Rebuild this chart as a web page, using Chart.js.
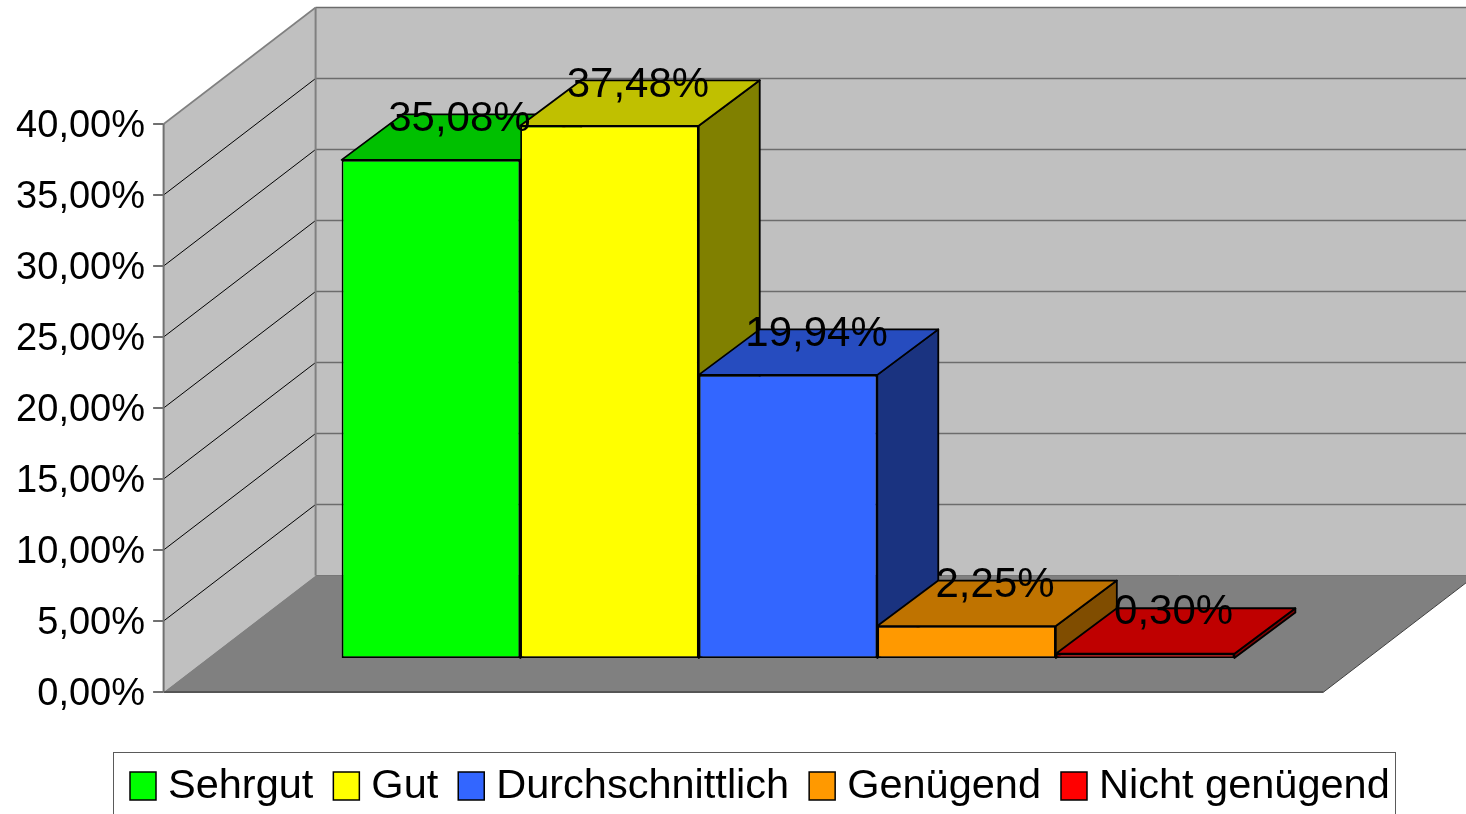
<!DOCTYPE html>
<html><head><meta charset="utf-8">
<script src="https://cdn.jsdelivr.net/npm/chart.js@4/dist/chart.umd.min.js"></script>
<style>html,body{margin:0;padding:0;background:#fff;overflow:hidden}canvas{display:block}</style>
</head><body>
<canvas id="c" width="1466" height="814"></canvas>
<script>
// ---- data ----
const categories = [''];
const seriesNames = ['Sehrgut', 'Gut', 'Durchschnittlich', 'Genügend', 'Nicht genügend'];
const seriesValues = [35.08, 37.48, 19.94, 2.25, 0.30];
const frontColors = ['#00ff00', '#ffff00', '#3366ff', '#ff9900', '#ff0000'];
const topColors = ['#00c000', '#c0c000', '#264cbf', '#bf7300', '#bf0000'];
const sideColors = ['#008000', '#808000', '#1a3380', '#804d00', '#800000'];
const yTickValues = [0, 5, 10, 15, 20, 25, 30, 35, 40];
const yTickLabels = ['0,00%', '5,00%', '10,00%', '15,00%', '20,00%', '25,00%', '30,00%', '35,00%', '40,00%'];

// ---- oblique projection geometry ----
const FRONT = { x: -44.4, y: 34 };     // front plane relative to bar plane
const WALL = { x: 152, y: -116.5 };    // full depth of the box
const BAR_DEPTH = { x: 61, y: -45.5 }; // depth of each bar

function poly(ctx, pts, fill, stroke, lw) {
  ctx.beginPath();
  ctx.moveTo(pts[0][0], pts[0][1]);
  for (let i = 1; i < pts.length; i++) ctx.lineTo(pts[i][0], pts[i][1]);
  ctx.closePath();
  if (fill) { ctx.fillStyle = fill; ctx.fill(); }
  if (stroke) { ctx.strokeStyle = stroke; ctx.lineWidth = lw || 1; ctx.lineJoin = 'round'; ctx.stroke(); }
}
function line(ctx, x1, y1, x2, y2, color, lw) {
  ctx.beginPath(); ctx.moveTo(x1, y1); ctx.lineTo(x2, y2);
  ctx.strokeStyle = color; ctx.lineWidth = lw; ctx.stroke();
}
const fmt = v => v.toFixed(2).replace('.', ',') + '%';

const fake3d = {
  id: 'fake3d',
  beforeDatasetsDraw(chart) {
    const ctx = chart.ctx, ca = chart.chartArea, ys = chart.scales.y;
    const maxV = yTickValues[yTickValues.length - 1];
    const fL = ca.left + FRONT.x, fR = ca.right + FRONT.x;
    const fy = v => ys.getPixelForValue(v) + FRONT.y;
    const bL = fL + WALL.x, bR = fR + WALL.x;
    const by = v => fy(v) + WALL.y;
    ctx.save();
    // back wall
    ctx.fillStyle = '#c0c0c0';
    ctx.fillRect(bL, by(maxV), bR - bL, by(0) - by(maxV));
    // side wall
    poly(ctx, [[fL, fy(0)], [fL, fy(maxV)], [bL, by(maxV)], [bL, by(0)]], '#c0c0c0');
    // floor
    poly(ctx, [[fL, fy(0)], [fR, fy(0)], [bR, by(0)], [bL, by(0)]], '#808080');
    // back wall gridlines
    yTickValues.forEach(v => {
      if (v > 0) line(ctx, bL, by(v), bR, by(v), '#6c6c6c', 1.6);
    });
    line(ctx, bL, by(0), bR, by(0), '#777777', 1);
    // side wall gridlines
    yTickValues.forEach(v => {
      if (v > 0 && v < maxV) line(ctx, fL, fy(v), bL, by(v), '#000000', 1);
    });
    line(ctx, fL, fy(maxV), bL, by(maxV), '#808080', 1.6);
    line(ctx, bL, by(maxV), bL, by(0), '#808080', 2);
    // floor edges
    line(ctx, fR, fy(0), bR, by(0), '#404040', 1);
    line(ctx, fL, fy(0), fR, fy(0), '#555555', 2);
    // front axis line and ticks
    line(ctx, fL, fy(maxV), fL, fy(0), '#707070', 2);
    yTickValues.forEach(v => line(ctx, fL - 10.5, fy(v), fL, fy(v), '#707070', 2));
    // y tick labels
    ctx.fillStyle = '#000';
    ctx.font = '38px "Liberation Sans"';
    ctx.textAlign = 'right';
    ctx.textBaseline = 'alphabetic';
    yTickValues.forEach((v, i) => {
      ctx.fillText(yTickLabels[i], 145, fy(v) + 13);
    });
    // bar tops and sides (painter's order left to right)
    chart.data.datasets.forEach((ds, i) => {
      const el = chart.getDatasetMeta(i).data[0];
      const p = el.getProps(['x', 'y', 'base', 'width'], true);
      const l = p.x - p.width / 2, r = p.x + p.width / 2, t = p.y, b = p.base;
      const dx = BAR_DEPTH.x, dy = BAR_DEPTH.y;
      poly(ctx, [[r, t], [r + dx, t + dy], [r + dx, b + dy], [r, b]], sideColors[i], '#000', 1.8);
      poly(ctx, [[l, t], [r, t], [r + dx, t + dy], [l + dx, t + dy]], topColors[i], '#000', 1.8);
    });
    ctx.restore();
  },
  afterDatasetsDraw(chart) {
    const ctx = chart.ctx;
    ctx.save();
    ctx.fillStyle = '#000';
    ctx.font = '42px "Liberation Sans"';
    ctx.textAlign = 'center';
    ctx.textBaseline = 'alphabetic';
    chart.data.datasets.forEach((ds, i) => {
      const el = chart.getDatasetMeta(i).data[0];
      const p = el.getProps(['x', 'y'], true);
      ctx.fillText(fmt(ds.data[0]), p.x + BAR_DEPTH.x / 2 - 2, p.y + BAR_DEPTH.y / 2 - 6.5);
    });
    // legend
    ctx.strokeStyle = '#5a5a5a';
    ctx.lineWidth = 1;
    ctx.strokeRect(113.5, 752.5, 1282, 80);
    ctx.font = '41.5px "Liberation Sans"';
    ctx.textAlign = 'left';
    let x = 130;
    chart.data.datasets.forEach((ds, i) => {
      ctx.fillStyle = frontColors[i];
      ctx.fillRect(x, 772, 26, 28);
      ctx.strokeStyle = '#000';
      ctx.lineWidth = 1.5;
      ctx.strokeRect(x, 772, 26, 28);
      ctx.fillStyle = '#000';
      ctx.fillText(ds.label, x + 38, 797.5);
      x += 38 + ctx.measureText(ds.label).width + 20;
    });
    ctx.restore();
  }
};

new Chart(document.getElementById('c'), {
  type: 'bar',
  data: {
    labels: categories,
    datasets: seriesNames.map((name, i) => ({
      label: name,
      data: [seriesValues[i]],
      backgroundColor: frontColors[i],
      borderColor: '#000',
      borderWidth: 1.8,
      borderSkipped: false
    }))
  },
  options: {
    responsive: false,
    animation: false,
    devicePixelRatio: 1,
    layout: { padding: { left: 208, right: 98, top: 90, bottom: 156 } },
    datasets: { bar: { categoryPercentage: 0.7696, barPercentage: 1 } },
    scales: {
      x: { display: false },
      y: { display: false, min: 0, max: 40 }
    },
    plugins: { legend: { display: false }, tooltip: { enabled: false } }
  },
  plugins: [fake3d]
});
</script>
</body></html>
